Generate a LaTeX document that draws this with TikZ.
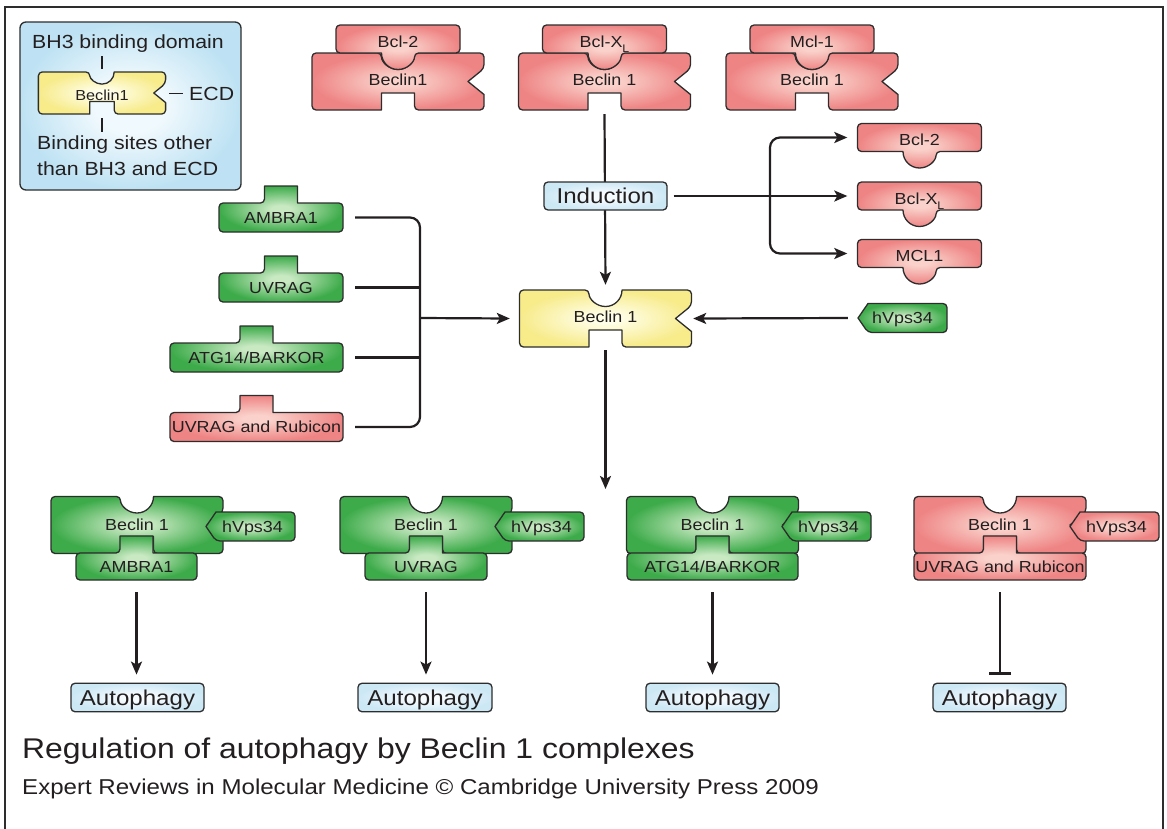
\documentclass[tikz,border=0pt]{standalone}
\usepackage{fontspec}
\setmainfont{Liberation Sans}[FakeStretch=1.12]
\usetikzlibrary{arrows.meta}
\definecolor{pinkL}{HTML}{FAD2CB}
\definecolor{pinkD}{HTML}{EE8484}
\definecolor{greenL}{HTML}{C9E9C3}
\definecolor{greenD}{HTML}{3DAB4A}
\definecolor{yelL}{HTML}{FFFEE8}
\definecolor{yelD}{HTML}{F7EB8A}
\definecolor{bluL}{HTML}{F6FBFE}
\definecolor{bluD}{HTML}{CDE8F5}
\definecolor{legL}{HTML}{F0F9FD}
\definecolor{legD}{HTML}{BEE2F3}
\definecolor{edgec}{HTML}{2D2D2D}
\definecolor{txtc}{HTML}{231F20}
\pgfdeclareradialshading{pinksh}{\pgfpoint{0bp}{0bp}}{color(0bp)=(pinkL); color(4bp)=(pinkL); color(25bp)=(pinkD); color(50bp)=(pinkD)}
\pgfdeclareradialshading{greensh}{\pgfpoint{0bp}{0bp}}{color(0bp)=(greenL); color(4bp)=(greenL); color(25bp)=(greenD); color(50bp)=(greenD)}
\pgfdeclareradialshading{yelsh}{\pgfpoint{0bp}{0bp}}{color(0bp)=(yelL); color(4bp)=(yelL); color(25bp)=(yelD); color(50bp)=(yelD)}
\pgfdeclareradialshading{blush}{\pgfpoint{0bp}{0bp}}{color(0bp)=(bluL); color(6bp)=(bluL); color(25bp)=(bluD); color(50bp)=(bluD)}
\pgfdeclareradialshading{legsh}{\pgfpoint{0bp}{0bp}}{color(0bp)=(legL); color(8bp)=(legL); color(25bp)=(legD); color(50bp)=(legD)}
\newcommand\XL{X\raisebox{-0.3em}{\fontsize{11}{11}\selectfont L}}
% Beclin 1 body: top round notch, bottom square notch, right V notch
\newcommand\BecShape[3]{\path[shift={(#1,#2)},#3] (-86,0) [rounded corners=4pt] -- (-86,-28.5) -- (-16.5,-28.5) [sharp corners] arc[start angle=180,end angle=360,radius=16.5pt] [rounded corners=4pt] -- (86,-28.5) -- (86,-13) [sharp corners] -- (70,0) -- (86,13) [rounded corners=4pt] -- (86,28.5) -- (16.5,28.5) [sharp corners] -- (16.5,11.5) -- (-16.5,11.5) -- (-16.5,28.5) [rounded corners=4pt] -- (-86,28.5) -- cycle;}
% Bcl card with round bump below
\newcommand\BclShape[3]{\path[shift={(#1,#2)},#3] (-62,0) [rounded corners=4pt] -- (-62,-14) -- (62,-14) -- (62,14) -- (16.5,14) [sharp corners] arc[start angle=0,end angle=-180,radius=16.5pt] [rounded corners=4pt] -- (-62,14) -- cycle;}
% card with square tab on top
\newcommand\UpShape[5]{\path[shift={(#1,#2)},#5] (-#3,0) [rounded corners=4pt] -- (-#3,-#4) -- (-16.5,-#4) [sharp corners] -- (-16.5,-#4-17) -- (16.5,-#4-17) -- (16.5,-#4) [rounded corners=4pt] -- (#3,-#4) -- (#3,#4) -- (-#3,#4) -- cycle;}
% hVps34 tag pointing left
\newcommand\VpsShape[3]{\path[shift={(#1,#2)},#3] (-44.5,0) -- (-34.5,-14.5) [rounded corners=4pt] -- (44.5,-14.5) -- (44.5,14.5) -- (-34.5,14.5) [sharp corners] -- cycle;}
\tikzset{
  shp/.style={draw=edgec, line width=1.3pt, line join=round},
  pinkf/.style={shp, shade, shading=pinksh},
  greenf/.style={shp, shade, shading=greensh},
  yelf/.style={shp, shade, shading=yelsh},
  lbl/.style={font=\fontsize{16}{18}\selectfont, text=txtc, inner sep=0pt, text height=11.5pt, text depth=0pt},
  hold/.style 2 args={lbl, minimum width=#1, minimum height=#2},
  bluebox/.style={draw=edgec, line width=1.3pt, rounded corners=4pt, shade, shading=blush, inner sep=0pt, font=\fontsize{21.5}{24}\selectfont, text=txtc, text height=15.4pt, text depth=0pt, minimum height=28.5pt},
  conn/.style={draw=txtc, line width=2.2pt},
  arr/.style={conn, -{Stealth[length=13pt, width=11pt, inset=3pt]}},
  inhib/.style={conn, -{Bar[width=22pt]}},
  legline/.style={draw=txtc, line width=1.6pt},
  legtext/.style={font=\fontsize{19}{22}\selectfont, text=txtc, inner sep=0pt},
  framel/.style={draw=edgec, line width=1.8pt},
}
\begin{document}
\begin{tikzpicture}[x=1pt,y=-1pt]
\useasboundingbox (0,0) rectangle (1167,828);
\draw[framel] (5,840) -- (5,7) -- (1163,7) -- (1163,840);

% ---------- legend ----------
\node[draw=edgec, line width=1.3pt, rounded corners=6pt, shade, shading=legsh, minimum width=221pt, minimum height=168pt, inner sep=0pt] (legend) at (130.5,106) {};
\BecShape{102}{93}{yelf, scale=0.74}
\node[hold={128}{42}, font=\fontsize{14.5}{16}\selectfont, text height=10.4pt] (legbody) at (102,95) {Beclin1};
\node[legtext, anchor=base west] (legbh3) at (32,48) {BH3 binding domain};
\node[legtext, anchor=base west] (legoth1) at (37,149) {Binding sites other};
\node[legtext, anchor=base west] (legoth2) at (37,175) {than BH3 and ECD};
\node[legtext, anchor=west, text height=13.6pt, text depth=0pt] (legecd) at (189,93.5) {ECD};
\coordinate (lgA) at (102,56);
\coordinate (lgB) at (102,69);
\coordinate (lgC) at (102,118);
\coordinate (lgD) at (102,132);
\coordinate (lgE) at (169,93.5);
\draw[legline] (lgA) -- (lgB);
\draw[legline] (lgC) -- (lgD);
\draw[legline] (lgE) -- ([xshift=-6pt]legecd.west);

% ---------- top complexes ----------
\BecShape{398}{81.5}{pinkf}
\BclShape{398}{39}{pinkf}
\node[hold={172}{57}, text height=8.5pt] (tc1) at (398,81.5) {Beclin1};
\node[hold={124}{28}, text height=16.5pt] (tb1) at (398,39) {Bcl-2};

\BecShape{604.5}{81.5}{pinkf}
\BclShape{604.5}{39}{pinkf}
\node[hold={172}{57}, text height=8.5pt] (tc2) at (604.5,81.5) {Beclin 1};
\node[hold={124}{28}, text height=16.5pt] (tb2) at (604.5,39) {Bcl-\XL};

\BecShape{812}{81.5}{pinkf}
\BclShape{812}{39}{pinkf}
\node[hold={172}{57}, text height=8.5pt] (tc3) at (812,81.5) {Beclin 1};
\node[hold={124}{28}, text height=16.5pt] (tb3) at (812,39) {Mcl-1};

% ---------- central Beclin 1 ----------
\BecShape{605.5}{318.5}{yelf}
\node[hold={173}{57}, text height=8.5pt] (bec) at (605.5,318.5) {Beclin 1};

\draw[arr] ([yshift=-4pt]tc2.south) -- ([yshift=5pt]bec.north);
\node[bluebox, minimum width=123pt, minimum height=28pt] (ind) at (605.5,196) {Induction};

% ---------- right Bcl cards ----------
\BclShape{919.5}{137.5}{pinkf}
\node[hold={124}{28}, text height=16.5pt] (r1) at (919.5,137.5) {Bcl-2};
\BclShape{919.5}{196}{pinkf}
\node[hold={124}{28}, text height=16.5pt] (r2) at (919.5,196) {Bcl-\XL};
\BclShape{919.5}{253.5}{pinkf}
\node[hold={124}{28}, text height=16.5pt] (r3) at (919.5,253.5) {MCL1};

\coordinate (brR) at (770,196);
\draw[arr] ([xshift=6pt]ind.east) -- ([xshift=-10pt]r2.west);
\draw[arr, rounded corners=10pt] (brR) |- ([xshift=-10pt]r1.west);
\draw[arr, rounded corners=10pt] (brR) |- ([xshift=-10pt]r3.west);

% ---------- hVps34 ----------
\VpsShape{902.5}{318}{greenf}
\node[hold={89}{29}] (vps) at (902.5,318) {hVps34};
\draw[arr] ([xshift=-10pt]vps.west) -- ([xshift=1pt]bec.east);

% ---------- left inputs ----------
\UpShape{281}{217.5}{62}{14.5}{greenf}
\node[hold={124}{29}] (in1) at (281,217.5) {AMBRA1};
\UpShape{281}{287.5}{62}{14.5}{greenf}
\node[hold={124}{29}] (in2) at (281,287.5) {UVRAG};
\UpShape{256.5}{357.5}{86.5}{14.5}{greenf}
\node[hold={173}{29}] (in3) at (256.5,357.5) {ATG14/BARKOR};
\UpShape{256.5}{427}{86.5}{14.5}{pinkf}
\node[hold={173}{29}] (in4) at (256.5,427) {UVRAG and Rubicon};

\coordinate (brL) at (420,318);
\draw[conn, rounded corners=10pt] ([xshift=12pt]in1.east) -| (brL) |- ([xshift=12pt]in4.east);
\draw[conn] ([xshift=12pt]in2.east) -- (in2.east -| brL);
\draw[conn] ([xshift=12pt]in3.east) -- (in3.east -| brL);
\draw[arr] (brL) -- ([xshift=-9pt]bec.west);

\coordinate (split) at (605.5,489);
\draw[arr] ([yshift=-3pt]bec.south) -- (split);

% ---------- bottom complexes ----------
\BecShape{137}{525}{greenf}
\UpShape{136.5}{566.5}{60.5}{13.5}{greenf}
\VpsShape{250.5}{526.5}{greenf}
\node[hold={172}{57}] (b1) at (137,525) {Beclin 1};
\node[hold={121}{27}] (p1) at (136.5,566.5) {AMBRA1};
\node[hold={89}{29}] (v1) at (252.5,526.5) {hVps34};
\node[bluebox, minimum width=133pt] (a1) at (137.5,697.5) {Autophagy};
\draw[arr] ([yshift=-12pt]p1.south) -- ([yshift=8pt]p1.south |- a1.north);

\BecShape{426}{525}{greenf}
\UpShape{426}{566.5}{61}{13.5}{greenf}
\VpsShape{539.5}{526.5}{greenf}
\node[hold={172}{57}] (b2) at (426,525) {Beclin 1};
\node[hold={122}{27}] (p2) at (426,566.5) {UVRAG};
\node[hold={89}{29}] (v2) at (541.5,526.5) {hVps34};
\node[bluebox, minimum width=134pt] (a2) at (425,697.5) {Autophagy};
\draw[arr] ([yshift=-12pt]p2.south) -- ([yshift=8pt]p2.south |- a2.north);

\BecShape{712.5}{525}{greenf}
\UpShape{712.5}{566.5}{85.5}{13.5}{greenf}
\VpsShape{826.5}{526.5}{greenf}
\node[hold={172}{57}] (b3) at (712.5,525) {Beclin 1};
\node[hold={171}{27}] (p3) at (712.5,566.5) {ATG14/BARKOR};
\node[hold={89}{29}] (v3) at (828.5,526.5) {hVps34};
\node[bluebox, minimum width=133pt] (a3) at (712.5,697.5) {Autophagy};
\draw[arr] ([yshift=-12pt]p3.south) -- ([yshift=8pt]p3.south |- a3.north);

\BecShape{1000}{525}{pinkf}
\UpShape{1000}{566.5}{86}{13.5}{pinkf}
\VpsShape{1114.5}{526.5}{pinkf}
\node[hold={172}{57}] (b4) at (1000,525) {Beclin 1};
\node[hold={172}{27}] (p4) at (1000,566.5) {UVRAG and Rubicon};
\node[hold={89}{29}] (v4) at (1116.5,526.5) {hVps34};
\node[bluebox, minimum width=133pt] (a4) at (999.5,697.5) {Autophagy};
\draw[inhib] ([yshift=-12pt]p4.south) -- ([yshift=8pt]p4.south |- a4.north);

% ---------- caption ----------
\node[anchor=base west, inner sep=0pt, font=\fontsize{28.5}{32}\selectfont, text=txtc] (title) at (22,758) {Regulation of autophagy by Beclin 1 complexes};
\node[anchor=base west, inner sep=0pt, font=\fontsize{21.5}{24}\selectfont, text=txtc] (credit) at (22,794) {Expert Reviews in Molecular Medicine © Cambridge University Press 2009};
\end{tikzpicture}
\end{document}
